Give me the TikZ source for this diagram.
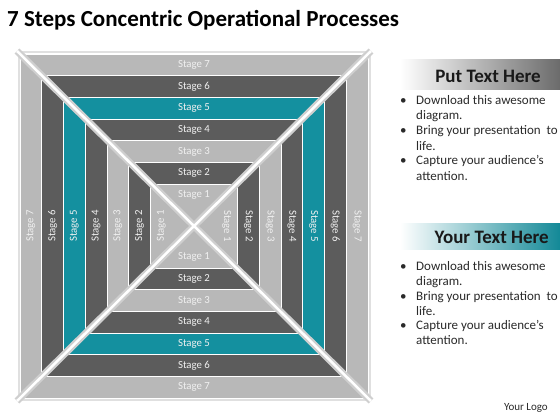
\documentclass[tikz,border=0pt]{standalone}
\usepackage{fontspec}
\setmainfont{Carlito}
\definecolor{lg}{HTML}{B8B8B8}
\definecolor{dg}{HTML}{5C5C5C}
\definecolor{tl}{HTML}{14909F}
\definecolor{barg}{HTML}{CFCFCF}
\definecolor{txt}{HTML}{2A2A2A}
\tikzset{
  lab/.style={text=white!94!black, font=\fontsize{10.8}{11}\selectfont, inner sep=0pt},
  diag/.style={barg, line width=7pt},
  diagin/.style={white, line width=2.5pt},
  bul/.style={anchor=base west, inner sep=0pt, text=txt, font=\fontsize{13}{15}\selectfont},
  head/.style={anchor=east, inner sep=0pt, text=black!90, font=\fontsize{19}{22}\selectfont\bfseries}
}
\begin{document}
\begin{tikzpicture}[x=1pt,y=-1pt]
\useasboundingbox (0,0) rectangle (560,420);
\fill[white] (0,0) rectangle (560,420);
% title
\node[anchor=base west, inner sep=0pt, font=\fontsize{23}{26}\selectfont\bfseries] (title) at (7,27) {7 Steps Concentric Operational Processes};
% outer border
\draw[black!12, line width=2pt] (194-175.5,226-173.5) rectangle (194+175.5,226+173.5);
% concentric rings
\foreach \k/\c in {7/lg,6/dg,5/tl,4/dg,3/lg,2/dg,1/lg} {
  \pgfmathsetmacro\ox{43.5+(\k-1)*21.75}
  \pgfmathsetmacro\oy{42+(\k-1)*21.67}
  \fill[\c, draw=white, line width=0.9pt] (194-\ox,226-\oy) rectangle (194+\ox,226+\oy);
}
% diagonals
\coordinate (dtl) at (194-177,226-175);
\coordinate (dbr) at (194+177,226+175);
\coordinate (dtr) at (194+177,226-175);
\coordinate (dbl) at (194-177,226+175);
\draw[diag] (dtl) -- (dbr);
\draw[diag] (dtr) -- (dbl);
\draw[diagin] (dtl) -- (dbr);
\draw[diagin] (dtr) -- (dbl);
% labels
\foreach \k in {1,...,7} {
  \pgfmathsetmacro\ox{43.5+(\k-1)*21.75}
  \pgfmathsetmacro\oy{42+(\k-1)*21.67}
  \node[lab] (t\k) at (194,226-\oy+10.8) {Stage \k};
  \node[lab] (b\k) at (194,226+\oy-10.8) {Stage \k};
  \node[lab, rotate=90] (l\k) at (194-\ox+10.9,226) {Stage \k};
  \node[lab, rotate=-90] (r\k) at (194+\ox-10.9,226) {Stage \k};
}
% right panel headers
\shade[left color=white, right color=black!58] (400,60) rectangle (560,90);
\node[head] (h1) at (541,76) {Put Text Here};
\shade[left color=white, right color=tl!95!black] (400,223) rectangle (560,249);
\node[head] (h2) at (549,237) {Your Text Here};
% bullets block 1
\node[bul] (a1) at (400,105) {•};
\node[bul] (a1t) at (416,105) {Download this awesome};
\node[bul] (a1u) at (416,120) {diagram.};
\node[bul] (a2) at (400,135) {•};
\node[bul] (a2t) at (416,135) {Bring your presentation\ \ to};
\node[bul] (a2u) at (416,150) {life.};
\node[bul] (a3) at (400,164) {•};
\node[bul] (a3t) at (416,164) {Capture your audience’s};
\node[bul] (a3u) at (416,180) {attention.};
% bullets block 2
\node[bul] (c1) at (400,270) {•};
\node[bul] (c1t) at (416,270) {Download this awesome};
\node[bul] (c1u) at (416,285) {diagram.};
\node[bul] (c2) at (400,300) {•};
\node[bul] (c2t) at (416,300) {Bring your presentation\ \ to};
\node[bul] (c2u) at (416,315) {life.};
\node[bul] (c3) at (400,329) {•};
\node[bul] (c3t) at (416,329) {Capture your audience’s};
\node[bul] (c3u) at (416,344) {attention.};
% logo
\node[anchor=base east, inner sep=0pt, text=txt, font=\fontsize{11}{12}\selectfont] (logo) at (548,410) {Your Logo};
\end{tikzpicture}
\end{document}
